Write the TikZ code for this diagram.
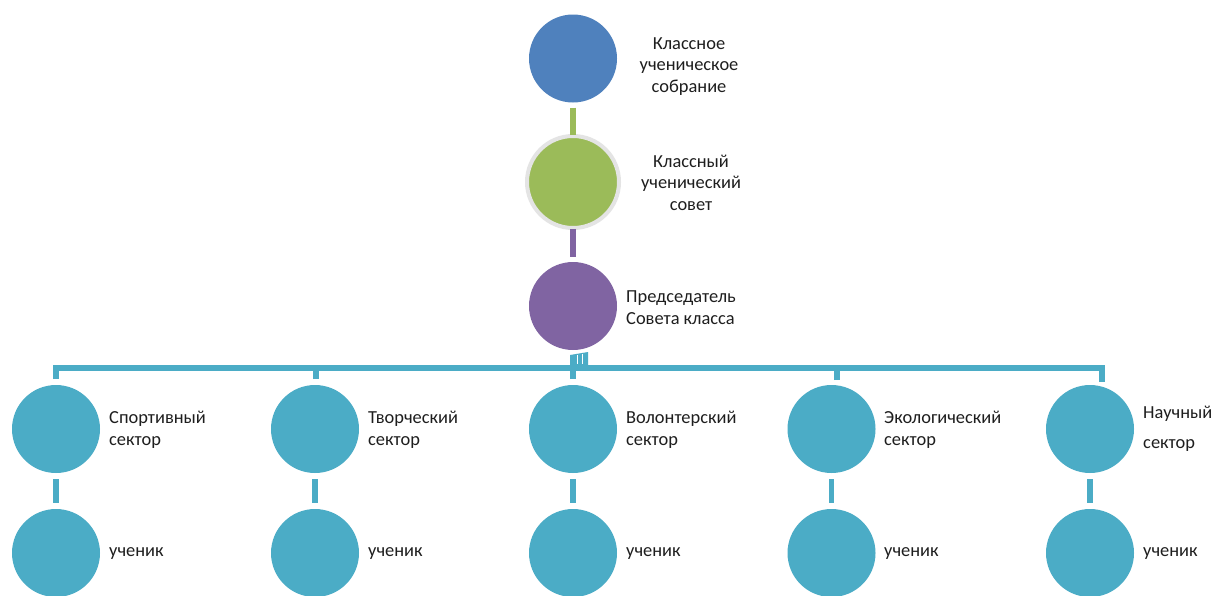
\documentclass[tikz,border=0pt]{standalone}
\usepackage{fontspec}
\setmainfont{Carlito}
\definecolor{cblue}{HTML}{4F81BD}
\definecolor{cgreen}{HTML}{9BBB59}
\definecolor{cpurple}{HTML}{8064A2}
\definecolor{cteal}{HTML}{4BACC6}
\definecolor{cring}{HTML}{E4E4E4}
\definecolor{ctext}{HTML}{1E1E1E}
\begin{document}
\begin{tikzpicture}[x=1pt,y=-1pt,
  circ/.style={circle, minimum size=88pt, inner sep=0pt, outer sep=0pt, draw=none},
  lbl/.style={font=\fontsize{18.4}{21.5}\selectfont, text=ctext, inner sep=0pt},
  conn/.style={line width=5.5pt, shorten <=6pt, shorten >=6pt},
  tealbar/.style={draw=cteal, line width=6pt, line join=miter},
]
\useasboundingbox[fill=white] (0,0) rectangle (1214,595);

% top chain
\node[circ, fill=cblue] (top) at (573,58.5) {};
\node[circle, minimum size=92pt, inner sep=0pt, outer sep=0pt, fill=cgreen, draw=cring, line width=4pt] (sov) at (573,182) {};
\node[circ, fill=cpurple] (pr) at (573,306) {};

\node[lbl, align=center] (ttop) at (689,66.5) {Классное\\ученическое\\собрание};
\node[lbl, align=center] (tsov) at (691,182.5) {Классный\\ученический\\совет};
\node[lbl, align=left, anchor=west] (tpr) at (626,307.5) {Председатель\\Совета класса};

\draw[conn, draw=cgreen, shorten <=5pt, shorten >=1pt] (top) -- (sov);
\draw[conn, draw=cpurple, shorten <=1pt, shorten >=5pt] (sov) -- (pr);

% sectors
\node[circ, fill=cteal] (s1) at (56,429) {};
\node[circ, fill=cteal] (s2) at (315,429) {};
\node[circ, fill=cteal] (s3) at (573,429) {};
\node[circ, fill=cteal] (s4) at (831.5,429) {};
\node[circ, fill=cteal] (s5) at (1090,429) {};

\node[lbl, align=left, anchor=west] (t1) at (109,430) {Спортивный\\сектор};
\node[lbl, align=left, anchor=west] (t2) at (368,430) {Творческий\\сектор};
\node[lbl, align=left, anchor=west] (t3) at (626,430) {Волонтерский\\сектор};
\node[lbl, align=left, anchor=west] (t4) at (884,430) {Экологический\\сектор};
\node[lbl, align=left, anchor=west, font=\fontsize{18.4}{30}\selectfont] (t5) at (1143,429) {Научный\\сектор};

% students
\node[circ, fill=cteal] (u1) at (56,553) {};
\node[circ, fill=cteal] (u2) at (315,553) {};
\node[circ, fill=cteal] (u3) at (573,553) {};
\node[circ, fill=cteal] (u4) at (831.5,553) {};
\node[circ, fill=cteal] (u5) at (1090,553) {};

\node[lbl, anchor=west] (v1) at (109,554) {ученик};
\node[lbl, anchor=west] (v2) at (368,554) {ученик};
\node[lbl, anchor=west] (v3) at (626,554) {ученик};
\node[lbl, anchor=west] (v4) at (884,554) {ученик};
\node[lbl, anchor=west] (v5) at (1143,554) {ученик};

\foreach \i in {1,...,5} {
  \draw[conn, draw=cteal] (s\i) -- (u\i);
}

% bar
\coordinate (bl) at (56,368);
\coordinate (br) at (1101.5,368);
\draw[tealbar] ([yshift=6pt]s1.north) -- (bl) -- (br) -- ([xshift=11.5pt,yshift=3pt]s5.north);
\draw[tealbar] ([xshift=1pt,yshift=6pt]s2.north) -- ([xshift=1pt]s2.north |- bl);
\draw[tealbar] ([yshift=6pt]s3.north) -- (s3.north |- bl);
\draw[tealbar] ([xshift=5.5pt,yshift=5pt]s4.north) -- ([xshift=5.5pt]s4.north |- bl);

% link from chairman to bar
\fill[cteal] ([shift={(-3,5)}]pr.south) -- ++(0,11) -- ++(18,0) -- ++(0,-14) -- cycle;
\draw[white, line width=0.8pt] ([shift={(4.5,5)}]pr.south) -- ++(0,9);
\draw[white, line width=0.8pt] ([shift={(9.5,4)}]pr.south) -- ++(0,10);
\end{tikzpicture}
\end{document}
